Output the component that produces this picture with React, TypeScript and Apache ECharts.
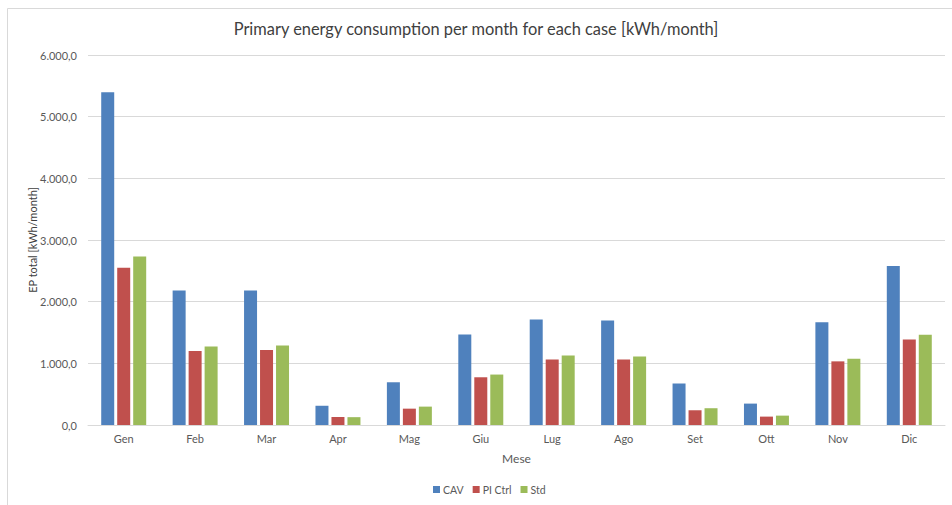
import React, { useEffect, useRef } from "react";
import * as echarts from "echarts";

const months = ["Gen", "Feb", "Mar", "Apr", "Mag", "Giu", "Lug", "Ago", "Set", "Ott", "Nov", "Dic"];
const cav = [5395, 2183, 2183, 312, 693, 1468, 1712, 1696, 673, 347, 1668, 2580];
const piCtrl = [2549, 1199, 1215, 130, 265, 774, 1062, 1062, 239, 136, 1032, 1386];
const std = [2734, 1275, 1291, 127, 298, 818, 1127, 1111, 272, 152, 1076, 1462];
const seriesNames = ["CAV", "PI Ctrl", "Std"];
const colors = ["#4F81BD", "#C0504D", "#9BBB59"];

const FONT = "Lato, 'Noto Sans', sans-serif";
const LABEL = "#595959";

// Italian number format: 6.000,0
function fmt(v: number): string {
  const fixed = v.toFixed(1);
  const [intPart, dec] = fixed.split(".");
  const grouped = intPart.replace(/\B(?=(\d{3})+(?!\d))/g, ".");
  return grouped + "," + dec;
}

export default function App() {
  const ref = useRef<HTMLDivElement>(null);

  useEffect(() => {
    if (!ref.current) return;
    const chart = echarts.init(ref.current, undefined, { renderer: "svg" });
    const data = [cav, piCtrl, std];
    chart.setOption({
      animation: false,
      backgroundColor: "#FFFFFF",
      title: {
        text: "Primary energy consumption per month for each case [kWh/month]",
        left: "center",
        top: 15,
        textStyle: { fontFamily: FONT, fontSize: 16.4, fontWeight: "normal", color: "#404040" },
      },
      graphic: [
        {
          type: "rect",
          shape: { x: 7.5, y: 8.5, width: 960, height: 520 },
          style: { fill: "none", stroke: "#D9D9D9", lineWidth: 1 },
          silent: true,
        },
      ],
      legend: {
        bottom: 5,
        left: 428,
        itemWidth: 7,
        itemHeight: 7,
        itemGap: 9,
        icon: "rect",
        textStyle: { fontFamily: FONT, fontSize: 10.5, color: LABEL, padding: [0, 0, 0, -2] },
        data: seriesNames,
      },
      grid: {
        left: 88,
        right: 7,
        top: 55,
        bottom: 80,
        containLabel: false,
        outerBoundsMode: "none",
      },
      xAxis: {
        type: "category",
        data: months,
        name: "Mese",
        nameLocation: "middle",
        nameGap: 27,
        nameMoveOverlap: false,
        nameTextStyle: { fontFamily: FONT, fontSize: 12, color: LABEL },
        axisLine: { lineStyle: { color: "#D9D9D9" } },
        axisTick: { show: false },
        axisLabel: { fontFamily: FONT, fontSize: 11, color: LABEL, margin: 8 },
      },
      yAxis: {
        type: "value",
        min: 0,
        max: 6000,
        interval: 1000,
        name: "EP total [kWh/month]",
        nameLocation: "middle",
        nameGap: 50,
        nameRotate: 90,
        nameMoveOverlap: false,
        nameTextStyle: { fontFamily: FONT, fontSize: 11, color: "#404040" },
        axisLine: { show: false },
        axisTick: { show: false },
        splitLine: { lineStyle: { color: "#D9D9D9" } },
        axisLabel: { fontFamily: FONT, fontSize: 11, color: LABEL, margin: 11, formatter: (v: number) => fmt(v) },
      },
      series: seriesNames.map((name, i) => ({
        name,
        type: "bar",
        data: data[i],
        barWidth: 13,
        barGap: "23%",
        itemStyle: { color: colors[i] },
      })),
    });
    return () => chart.dispose();
  }, []);

  return (
    <div
      ref={ref}
      style={{ position: "fixed", left: 0, top: 0, width: 952, height: 505 }}
    />
  );
}
